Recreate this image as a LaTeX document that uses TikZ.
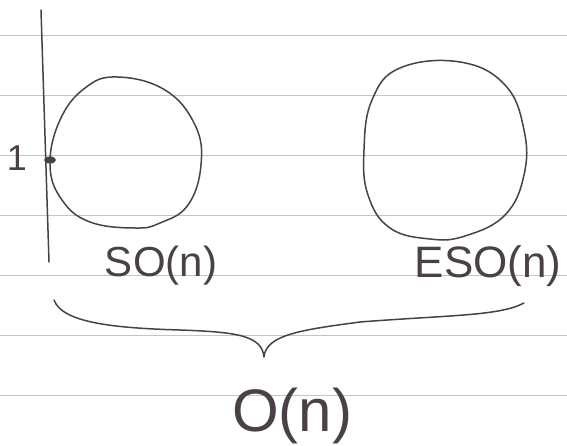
\documentclass[tikz,border=0pt]{standalone}
\usepackage{fontspec}
\setmainfont{Liberation Sans}
\usepackage{xcolor}
\usetikzlibrary{arrows.meta}

\definecolor{ink}{HTML}{4A4048}
\definecolor{paperrule}{HTML}{C4C4C4}

\begin{document}
\begin{tikzpicture}[x=1pt,y=-1pt,
  pen/.style={draw=ink,line width=1.5pt,line cap=round,line join=round},
  lbl/.style={text=ink,inner sep=0pt}]
\useasboundingbox (0,0) rectangle (567,446);
% ruled paper
\foreach \y in {35,95,155,215,275,335,395}
  \draw[paperrule,line width=0.9pt](0,\y)--(567,\y);
% axis and point 1
\coordinate (axtop) at (41,10);
\coordinate (axbot) at (49,262);
\draw[pen](axtop)--(axbot);
\coordinate (one) at (50,160);
\fill[ink](one)ellipse[x radius=6,y radius=3.5];
\node[lbl,font=\fontsize{36}{36}\selectfont] (oneLbl) at (17,158) {1};
% SO(n)
\draw[pen] plot[smooth cycle,tension=0.7] coordinates {(117,77) (165,90) (195,125) (201,165) (188,205) (160,223) (135,228) (90,222) (62,200) (50,165) (60,120) (85,88)};
\node[lbl,font=\fontsize{42}{42}\selectfont] (soLbl) at (161,266) {SO(n)};
% ESO(n)
\draw[pen] plot[smooth cycle,tension=0.7] coordinates {(400,68) (460,62) (505,85) (524,130) (524,175) (505,215) (465,236) (430,239) (390,228) (368,195) (364,150) (372,100)};
\node[lbl,font=\fontsize{44}{44}\selectfont] (esoLbl) at (488,266) {ESO(n)};
% brace
\coordinate (brL) at (54,300);
\coordinate (brR) at (524,303);
\coordinate (brTip) at (264,357);
\draw[pen](brL) .. controls (62,322) and (110,328) .. (180,330)
  .. controls (235,332) and (262,335) .. (brTip)
  .. controls (266,335) and (300,330) .. (360,322)
  .. controls (450,315) and (500,316) .. (brR);
\node[lbl,font=\fontsize{60}{60}\selectfont] (oLbl) at (292,416) {O(n)};
\end{tikzpicture}
\end{document}
